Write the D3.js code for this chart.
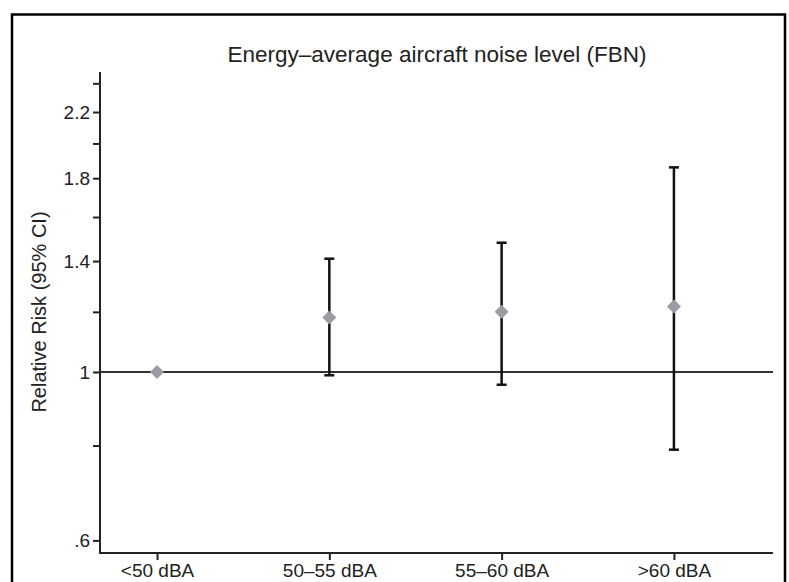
<!DOCTYPE html>
<html><head><meta charset="utf-8">
<script src="https://cdn.jsdelivr.net/npm/d3@7"></script>
<style>html,body{margin:0;padding:0;background:#fff;}svg{display:block;font-family:"Liberation Sans",Arial,sans-serif;}</style>
</head><body>
<script>
const categories = ["<50 dBA", "50\u201355 dBA", "55\u201360 dBA", ">60 dBA"];
const rr = [1.0, 1.18, 1.20, 1.22];
const lower = [null, 0.99, 0.962, 0.79];
const upper = [null, 1.41, 1.48, 1.86];
const yTickValues = [0.6, 0.8, 1.0, 1.2, 1.4, 1.6, 1.8, 2.0, 2.2, 2.4];
const yTickLabels = {"0.6": ".6", "1": "1", "1.4": "1.4", "1.8": "1.8", "2.2": "2.2"};
const title = "Energy\u2013average aircraft noise level (FBN)";
const yTitle = "Relative Risk (95% CI)";

(function () {
const W = 789, H = 582;
const svg = d3.select("body").append("svg").attr("width", W).attr("height", H);

// outer frame
svg.append("rect").attr("x", 12).attr("y", 14.5).attr("width", 773).attr("height", 620)
  .attr("fill", "none").attr("stroke", "#000").attr("stroke-width", 2.5);

const pLeft = 100, pRight = 773, pTop = 72, pBottom = 553;
const x = d3.scaleLinear().domain([0.669, 4.575]).range([pLeft, pRight]);
const y = d3.scaleLog().domain([0.5775, 2.484]).range([pBottom, pTop]);

const ink = "#222";

// title
svg.append("text").attr("x", 437).attr("y", 62).attr("text-anchor", "middle")
  .attr("font-size", 22.5).attr("fill", ink).text(title);

// y axis
const yAxis = d3.axisLeft(y).tickValues(yTickValues)
  .tickFormat(d => { const k = String(+d.toFixed(1)); return yTickLabels[k] || ""; })
  .tickSize(7).tickPadding(3);
const gy = svg.append("g").attr("transform", `translate(${pLeft},0)`).call(yAxis);
gy.select(".domain").attr("d", `M0,${pTop}V${pBottom}`).attr("stroke", ink).attr("stroke-width", 2);
gy.selectAll(".tick line").attr("stroke", ink).attr("stroke-width", 2);
gy.selectAll(".tick text").attr("font-size", 19).attr("fill", ink).attr("font-family", "Liberation Sans, Arial, sans-serif");

// x axis
const xAxis = d3.axisBottom(x).tickValues([1, 2, 3, 4]).tickFormat(d => categories[d - 1])
  .tickSize(7).tickPadding(4);
const gx = svg.append("g").attr("transform", `translate(0,${pBottom})`).call(xAxis);
gx.select(".domain").attr("d", `M${pLeft - 1},0H${pRight}`).attr("stroke", ink).attr("stroke-width", 2);
gx.selectAll(".tick line").attr("stroke", ink).attr("stroke-width", 2);
gx.selectAll(".tick text").attr("font-size", 19).attr("fill", ink).attr("font-family", "Liberation Sans, Arial, sans-serif");

// y title
svg.append("text").attr("transform", `translate(46,${312}) rotate(-90)`).attr("text-anchor", "middle")
  .attr("font-size", 20).attr("fill", ink).text(yTitle);

// reference line at 1
svg.append("line").attr("x1", pLeft).attr("x2", pRight).attr("y1", y(1)).attr("y2", y(1))
  .attr("stroke", "#333").attr("stroke-width", 2);

const data = categories.map((c, i) => ({i: i + 1, rr: rr[i], lo: lower[i], hi: upper[i]}));
const ci = data.filter(d => d.lo != null);

const gci = svg.append("g").attr("stroke", "#111").attr("stroke-width", 2.5);
gci.selectAll("line.v").data(ci).join("line").attr("class", "v")
  .attr("x1", d => x(d.i)).attr("x2", d => x(d.i)).attr("y1", d => y(d.lo)).attr("y2", d => y(d.hi));
gci.selectAll("line.t").data(ci).join("line").attr("class", "t")
  .attr("x1", d => x(d.i) - 5).attr("x2", d => x(d.i) + 5).attr("y1", d => y(d.hi)).attr("y2", d => y(d.hi));
gci.selectAll("line.b").data(ci).join("line").attr("class", "b")
  .attr("x1", d => x(d.i) - 5).attr("x2", d => x(d.i) + 5).attr("y1", d => y(d.lo)).attr("y2", d => y(d.lo));

const s = 7;
svg.append("g").selectAll("path").data(data).join("path")
  .attr("d", d => { const cx = x(d.i), cy = y(d.rr); return `M${cx},${cy - s}L${cx + s},${cy}L${cx},${cy + s}L${cx - s},${cy}Z`; })
  .attr("fill", "#9b9ba4");
})();
</script>
</body></html>
